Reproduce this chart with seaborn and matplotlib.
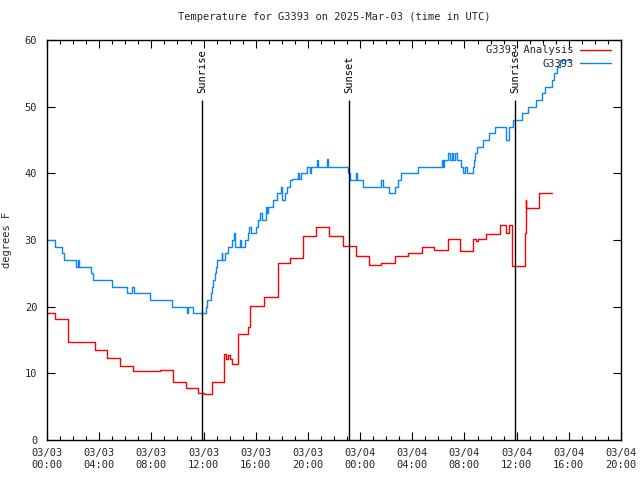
import matplotlib
matplotlib.use("Agg")
import matplotlib.pyplot as plt
from matplotlib.ticker import MultipleLocator, FixedLocator
import seaborn as sns
import pandas as pd

# ---- data (hours since 03/03 00:00 UTC, degrees F) ----
obs_hours = [0, 0.64, 1.18, 1.30, 1.41, 2.22, 2.40, 2.48, 3.35, 3.55, 3.76, 4.98, 6.16, 6.54, 6.67,
             7.90, 9.56, 10.71, 10.78, 11.17, 12.16, 12.24, 12.32, 12.55, 12.65, 12.75, 12.88, 12.96,
             13.01, 13.13, 13.39, 13.45, 13.64, 13.77, 13.90, 14.16, 14.36, 14.41, 14.54, 14.79, 14.85,
             15.05, 15.18, 15.43, 15.51, 15.61, 15.95, 16.00, 16.20, 16.33, 16.46, 16.63, 16.79, 16.85,
             16.97, 17.09, 17.30, 17.48, 17.66, 17.91, 17.99, 18.24, 18.37, 18.63, 18.76, 19.14, 19.27,
             19.35, 19.45, 19.78, 19.96, 20.16, 20.21, 20.67, 20.75, 21.31, 21.49, 21.57, 22.97, 23.10,
             23.23, 23.61, 23.69, 23.79, 24.20, 25.48, 25.58, 25.73, 26.24, 26.60, 26.68, 26.93, 27.14,
             28.34, 28.42, 30.18, 30.25, 30.38, 30.46, 30.77, 30.89, 31.02, 31.15, 31.28, 31.40, 31.61,
             31.71, 31.92, 32.04, 32.22, 32.43, 32.63, 32.73, 32.84, 32.99, 33.45, 33.91, 34.34, 35.19,
             35.44, 35.75, 36.39, 36.90, 37.49, 37.92, 38.18, 38.69, 38.87, 39.07, 39.33, 39.71, 40.10]
obs_temps = [30, 29, 28, 27, 27, 26, 27, 26, 25, 24, 24, 23, 22, 23, 22,
             21, 20, 19, 20, 19, 20, 21, 21, 22, 23, 24, 25, 26,
             27, 27, 28, 27, 28, 28, 29, 30, 31, 29, 29, 30, 29,
             29, 30, 31, 32, 31, 31, 32, 33, 34, 33, 33, 35, 34,
             35, 35, 36, 36, 37, 38, 36, 37, 38, 39, 39.1, 39.1, 40,
             39.1, 40, 40, 41, 40, 41, 42, 41, 41, 42.1, 41, 41, 40,
             39, 39, 40, 39, 38, 38, 39, 38, 37, 37, 38, 39, 40,
             40, 41, 41, 42, 41, 42, 43, 42, 43, 42, 43, 42, 42,
             41, 40, 41, 40, 40, 41, 42, 43, 44, 45, 46, 47, 45,
             47, 48, 49, 50, 51, 52, 53, 54, 55, 56, 57, 57, 57]

ana_hours = [0, 0.59, 1.59, 3.65, 4.57, 5.60, 6.62, 8.66, 9.63, 10.66, 11.58, 12.00, 12.62, 13.59,
             13.75, 13.90, 14.00, 14.16, 14.62, 15.38, 15.56, 16.63, 17.68, 18.63, 19.60, 20.62,
             21.59, 22.66, 23.69, 24.70, 25.58, 26.68, 27.70, 28.72, 29.69, 30.76, 31.66, 32.68,
             32.90, 33.00, 33.65, 34.73, 35.16, 35.44, 35.62, 35.67, 36.65, 36.68, 36.75, 37.69, 38.69]
ana_temps = [19.0, 18.1, 14.65, 13.5, 12.3, 11.1, 10.35, 10.5, 8.65, 7.75, 7.0, 6.85, 8.65, 12.85,
             12.2, 12.7, 12.2, 11.35, 15.85, 16.9, 20.05, 21.4, 26.5, 27.3, 30.55, 31.9,
             30.6, 29.05, 27.55, 26.2, 26.5, 27.55, 28.0, 28.9, 28.5, 30.1, 28.35, 30.1,
             29.8, 30.1, 30.85, 32.2, 31.0, 32.2, 29.2, 26.1, 31.0, 36.0, 34.75, 37.0, 37.0]

series_names = ["G3393 Analysis", "G3393"]
series_colors = ["#ff0000", "#0a84ff"]

event_names = ["Sunrise", "Sunset", "Sunrise"]
event_hours = [11.88, 23.15, 35.88]

tick_hours = [0, 4, 8, 12, 16, 20, 24, 28, 32, 36, 40, 44]
tick_labels = ["03/03\n00:00", "03/03\n04:00", "03/03\n08:00", "03/03\n12:00", "03/03\n16:00",
               "03/03\n20:00", "03/04\n00:00", "03/04\n04:00", "03/04\n08:00", "03/04\n12:00",
               "03/04\n16:00", "03/04\n20:00"]
y_ticks = [0, 10, 20, 30, 40, 50, 60]

title = "Temperature for G3393 on 2025-Mar-03 (time in UTC)"
ylabel = "degrees F"

# ---- build table ----
df = pd.concat([
    pd.DataFrame({"hour": ana_hours, "temp": ana_temps, "series": series_names[0]}),
    pd.DataFrame({"hour": obs_hours, "temp": obs_temps, "series": series_names[1]}),
], ignore_index=True)

sns.set_style("ticks")
plt.rcParams["font.family"] = ["DejaVu Sans Mono"]
plt.rcParams["font.size"] = 7.5

fig = plt.figure(figsize=(6.4, 4.8), dpi=100)
ax = fig.add_axes([47 / 640, 1 - 440 / 480, 574 / 640, 400 / 480])

sns.lineplot(data=df, x="hour", y="temp", hue="series", hue_order=series_names,
             palette=series_colors, drawstyle="steps-post", estimator=None, sort=False,
             linewidth=1.0, ax=ax)

ax.vlines(event_hours, 0, 51, colors="black", linewidth=1.0)
for name, h in zip(event_names, event_hours):
    ax.text(h, 52, name, rotation=90, ha="center", va="bottom", fontsize=7.5, color="black")

ax.set_xlim(0, 44)
ax.set_ylim(0, 60)
ax.xaxis.set_major_locator(FixedLocator(tick_hours))
ax.set_xticks(tick_hours)
ax.set_xticklabels(tick_labels)
ax.xaxis.set_minor_locator(MultipleLocator(1))
ax.set_yticks(y_ticks)
ax.set_yticklabels([str(v) for v in y_ticks])
ax.tick_params(axis="both", which="both", direction="in", top=True, right=True,
               labelsize=7.5, width=0.8, color="black")
ax.tick_params(axis="both", which="major", length=6)
ax.tick_params(axis="x", which="minor", length=3)
ax.tick_params(axis="x", pad=6)
ax.tick_params(axis="y", pad=7)
for s in ax.spines.values():
    s.set_linewidth(1.0)
    s.set_color("black")

ax.set_xlabel("")
ax.set_ylabel(ylabel, fontsize=7.5, labelpad=9)
fig.suptitle(title, x=(47 + 621) / 2 / 640, y=1 - 12 / 480, fontsize=7.5, va="top")

leg = ax.legend(loc="upper right", bbox_to_anchor=(1 - 6 / 574, 1.0 - 1 / 400), frameon=False,
                markerfirst=False, handlelength=3.0, handletextpad=0.6, labelspacing=0.35,
                borderaxespad=0.2, borderpad=0.2, fontsize=7.5)

fig.savefig("out.png", dpi=100)
